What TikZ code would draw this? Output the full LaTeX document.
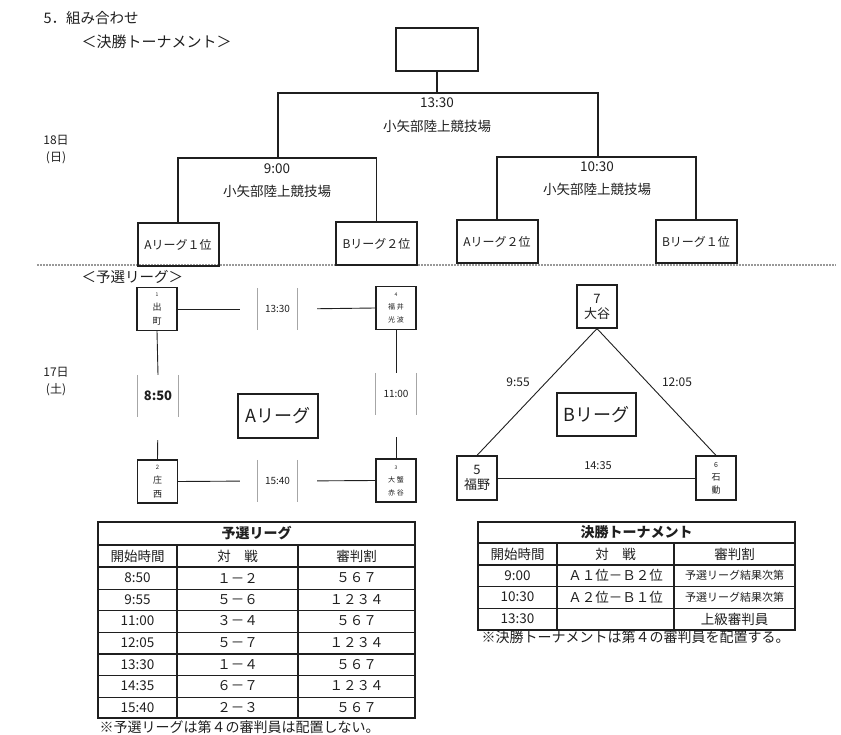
\documentclass[tikz,border=0pt]{standalone}
\usepackage{fontspec}
\setmainfont{Noto Sans CJK JP}
\newcommand\fsz[2]{\fontsize{#1}{#2}\selectfont}
\definecolor{ink}{gray}{0.12}
\begin{document}
\begin{tikzpicture}[x=1pt,y=-1pt,
  every node/.style={text=ink},
  leaf/.style={draw=ink, line width=2pt, minimum width=81pt, minimum height=43pt, inner sep=0pt, font=\fsz{12}{14}},
  bracket/.style={draw=ink, line width=1.8pt},
  venue/.style={font=\fsz{13.5}{16}},
  team/.style={draw=ink, line width=1.2pt, minimum width=40pt, minimum height=43pt, inner sep=0pt, align=center},
  link/.style={draw=ink, line width=0.9pt},
  tlabel/.style={minimum width=39pt, minimum height=42pt, inner sep=0pt},
  bar/.style={draw=gray!70, line width=0.8pt},
  lgbox/.style={draw=ink, line width=1.2pt, minimum width=80pt, minimum height=44pt, inner sep=0pt, font=\fsz{18}{20}},
  tfont/.style={font=\fsz{13.5}{16}},
  thick/.style={draw=ink, line width=1.8pt},
  mid/.style={draw=ink, line width=1.4pt},
  fine/.style={draw=ink, line width=0.8pt}
]
\useasboundingbox (0,0) rectangle (841,735);

% headings
\node[anchor=west, font=\fsz{14.5}{16}] (h1) at (40,18) {5．組み合わせ};
\node[anchor=west, font=\fsz{15}{17}] (h2) at (78,42) {＜決勝トーナメント＞};
\node[font=\fsz{12}{14}] (d18) at (56,140) {18日};
\node[font=\fsz{12}{14}] (d18b) at (56,158) {(日)};
\node[font=\fsz{12}{14}] (d17) at (56,372) {17日};
\node[font=\fsz{12}{14}] (d17b) at (56,390) {(土)};
\node[anchor=west, font=\fsz{14.5}{16}] (h3) at (78,277) {＜予選リーグ＞};

% separator
\draw[gray!80, line width=1.3pt, dash pattern=on 2pt off 1pt] (37,265) -- (836,265);

% tournament
\node[draw=ink, line width=2pt, minimum width=82pt, minimum height=43pt, inner sep=0pt] (top) at (437,49.5) {};
\node[leaf] (a1) at (178,244.5) {Aリーグ１位};
\node[leaf] (b2) at (376.5,243.5) {Bリーグ２位};
\node[leaf] (a2) at (497,242) {Aリーグ２位};
\node[leaf] (b1) at (696,241.5) {Bリーグ１位};

\coordinate (l1) at (178,158);
\coordinate (l2) at (376.5,158);
\coordinate (lm) at (278,158);
\coordinate (r1) at (497,157);
\coordinate (r2) at (696,157);
\coordinate (rm) at (598,157);
\coordinate (f1) at (278,93);
\coordinate (f2) at (598,93);
\coordinate (fm) at (437,93);

\draw[bracket] (a1.north) -- (l1) -- (l2) -- (b2.north);
\draw[bracket] (a2.north) -- (r1) -- (r2) -- (b1.north);
\draw[bracket] (lm) -- (f1) -- (f2) -- (rm);
\draw[bracket] (top.south) -- (fm);

\node[venue] (tf) at (437,103) {13:30};
\node[venue] (vf) at (437,126) {小矢部陸上競技場};
\node[venue] (tl) at (277,169) {9:00};
\node[venue] (vl) at (277,191) {小矢部陸上競技場};
\node[venue] (tr) at (597,167) {10:30};
\node[venue] (vr) at (597,189) {小矢部陸上競技場};

% A league
\node[team, font=\fsz{9}{14}] (t1) at (157,309) {{\fsz{5}{6}1}\\出\\町};
\node[team, font=\fsz{7}{13}] (t4) at (396,308) {{\fsz{5}{6}4}\\福 井\\光 波};
\node[team, font=\fsz{9}{14}] (t2) at (157.5,481.5) {{\fsz{6}{7}2}\\庄\\西};
\node[team, font=\fsz{7}{13}] (t3) at (396,480.5) {{\fsz{5}{6}3}\\大 蟹\\赤 谷};

\node[tlabel, font=\fsz{10}{12}] (m14) at (277.5,309) {13:30};
\node[tlabel, font=\fsz{10}{12}] (m23) at (277.5,481) {15:40};
\node[tlabel, minimum width=40pt, font=\bfseries\fsz{13}{15}] (m12) at (158,396) {8:50};
\node[tlabel, minimum width=40pt, font=\fsz{10}{12}] (m34) at (396,394) {11:00};
\foreach \m in {m14,m23,m12,m34}{
  \draw[bar] (\m.north west) -- (\m.south west);
  \draw[bar] (\m.north east) -- (\m.south east);
}
\draw[link, shorten >=18pt] (t1.east) -- (m14.west);
\draw[link, shorten <=20pt] (m14.east) -- (t4.west);
\draw[link, shorten >=18pt] (t2.east) -- (m23.west);
\draw[link, shorten <=20pt] (m23.east) -- (t3.west);
\draw[link] (t1.south) -- (m12.north);
\draw[link, shorten <=23pt] (m12.south) -- (t2.north);
\draw[link] (t4.south) -- (m34.north);
\draw[link, shorten <=22pt] (m34.south) -- (t3.north);

\node[lgbox] (alg) at (278,416) {Aリーグ};

% B league
\node[team, minimum height=43pt, font=\fsz{13}{15}] (s7) at (597,306.5) {7\\大谷};
\node[team, minimum height=44pt, font=\fsz{13}{15}] (s5) at (477,478) {5\\福野};
\node[team, minimum height=44pt, font=\fsz{9}{13}] (s6) at (716,478) {{\fsz{7}{8}6}\\石\\動};
\draw[link] (s7.south) -- (s5.north);
\draw[link] (s7.south) -- (s6.north);
\draw[link] (s5.east) -- (s6.west);
\node[font=\fsz{12}{14}] (l955) at (518,382) {9:55};
\node[font=\fsz{12}{14}] (l1205) at (677,382) {12:05};
\node[font=\fsz{11}{13}] (l1435) at (598,466) {14:35};
\node[lgbox, minimum width=79pt, minimum height=43pt] (blg) at (596.5,414.5) {Bリーグ};

% left table
\draw[thick] (98,522) rectangle (415,718);
\draw[mid] (98,545) -- (415,545);
\draw[mid] (98,567) -- (415,567);
\draw[mid] (98,654) -- (415,654);
\foreach \yy in {589,610,632,675,697} \draw[fine] (98,\yy) -- (415,\yy);
\draw[mid] (177,545) -- (177,718);
\draw[mid] (298,545) -- (298,718);
\node[font=\bfseries\fsz{14}{16}] (ptitle) at (256.5,533.5) {予選リーグ};
\node[tfont] (ph1) at (137.5,556) {開始時間};
\node[tfont] (ph2) at (237.5,556) {対　戦};
\node[tfont] (ph3) at (356.5,556) {審判割};
\foreach \yy/\ta/\tb/\tc in {578/8:50/１－２/５６７, 599.5/9:55/５－６/１２３４, 621/11:00/３－４/５６７, 643/12:05/５－７/１２３４, 664.5/13:30/１－４/５６７, 686/14:35/６－７/１２３４, 707.5/15:40/２－３/５６７}{
  \node[tfont] at (137.5,\yy) {\ta};
  \node[tfont] at (237.5,\yy) {\tb};
  \node[tfont] at (356.5,\yy) {\tc};
}
\node[anchor=west, font=\fsz{14}{16}] (pnote) at (96,727) {※予選リーグは第４の審判員は配置しない。};

% right table
\draw[thick] (478,522) rectangle (795,630);
\draw[mid] (478,543) -- (795,543);
\draw[mid] (478,565) -- (795,565);
\foreach \yy in {586,608} \draw[fine] (478,\yy) -- (795,\yy);
\draw[mid] (557,543) -- (557,630);
\draw[mid] (674,543) -- (674,630);
\node[font=\bfseries\fsz{14}{16}] (ftitle) at (636.5,532.5) {決勝トーナメント};
\node[tfont] (fh1) at (517.5,554) {開始時間};
\node[tfont] (fh2) at (615.5,554) {対　戦};
\node[tfont] (fh3) at (734.5,554) {審判割};
\node[tfont] at (517.5,575.5) {9:00};
\node[tfont] at (615.5,575.5) {Ａ１位－Ｂ２位};
\node[font=\fsz{11}{13}] at (734.5,575.5) {予選リーグ結果次第};
\node[tfont] at (517.5,597) {10:30};
\node[tfont] at (615.5,597) {Ａ２位－Ｂ１位};
\node[font=\fsz{11}{13}] at (734.5,597) {予選リーグ結果次第};
\node[tfont] at (517.5,619) {13:30};
\node[tfont] at (734.5,619) {上級審判員};
\node[anchor=west, font=\fsz{14}{16}] (fnote) at (478,637) {※決勝トーナメントは第４の審判員を配置する。};
\end{tikzpicture}
\end{document}
